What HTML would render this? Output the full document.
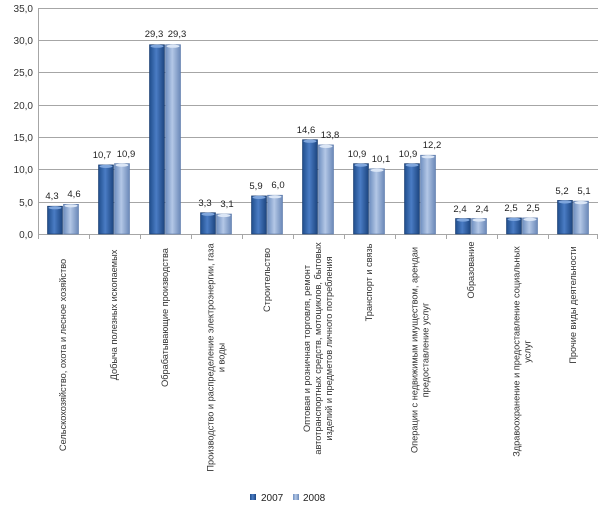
<!DOCTYPE html>
<html><head><meta charset="utf-8"><style>
html,body{margin:0;padding:0;background:#fff}
svg{display:block;font-family:"Liberation Sans",sans-serif}
</style></head><body>
<svg width="608" height="518" viewBox="0 0 608 518" xmlns="http://www.w3.org/2000/svg">
<defs>
<linearGradient id="g1" x1="0" x2="1" y1="0" y2="0">
<stop offset="0" stop-color="#1f4d8c"/><stop offset="0.45" stop-color="#4a7cc4"/><stop offset="1" stop-color="#1c4580"/>
</linearGradient>
<linearGradient id="g2" x1="0" x2="1" y1="0" y2="0">
<stop offset="0" stop-color="#6f8fc0"/><stop offset="0.45" stop-color="#b3c7e6"/><stop offset="1" stop-color="#6a88b8"/>
</linearGradient>
</defs>
<g stroke="#a6a6a6" stroke-width="1">
<line x1="38" x2="598" y1="8.5" y2="8.5"/>
<line x1="38" x2="598" y1="40.5" y2="40.5"/>
<line x1="38" x2="598" y1="72.5" y2="72.5"/>
<line x1="38" x2="598" y1="105.5" y2="105.5"/>
<line x1="38" x2="598" y1="137.5" y2="137.5"/>
<line x1="38" x2="598" y1="169.5" y2="169.5"/>
<line x1="38" x2="598" y1="202.5" y2="202.5"/>
<line x1="38" x2="598" y1="234.5" y2="234.5"/>
<line x1="38.5" x2="38.5" y1="8" y2="239"/>
<line x1="89.5" x2="89.5" y1="234" y2="239"/>
<line x1="140.5" x2="140.5" y1="234" y2="239"/>
<line x1="191.5" x2="191.5" y1="234" y2="239"/>
<line x1="242.5" x2="242.5" y1="234" y2="239"/>
<line x1="293.5" x2="293.5" y1="234" y2="239"/>
<line x1="344.5" x2="344.5" y1="234" y2="239"/>
<line x1="395.5" x2="395.5" y1="234" y2="239"/>
<line x1="446.5" x2="446.5" y1="234" y2="239"/>
<line x1="497.5" x2="497.5" y1="234" y2="239"/>
<line x1="548.5" x2="548.5" y1="234" y2="239"/>
<line x1="597.5" x2="597.5" y1="234" y2="239"/>
</g>
<g font-size="10" fill="#333" text-anchor="end">
<text x="33" y="12">35,0</text><text x="33" y="44">30,0</text><text x="33" y="76">25,0</text>
<text x="33" y="109">20,0</text><text x="33" y="141">15,0</text><text x="33" y="173">10,0</text>
<text x="33" y="206">5,0</text><text x="33" y="238">0,0</text>
</g>
<g stroke-width="0.6">
<g fill="url(#g1)" stroke="#17396b">
<rect x="47.5" y="206.2" width="15" height="27.8"/>
<rect x="98.5" y="164.9" width="15" height="69.1"/>
<rect x="149.5" y="44.7" width="15" height="189.3"/>
<rect x="200.5" y="212.7" width="15" height="21.3"/>
<rect x="251.5" y="195.9" width="15" height="38.1"/>
<rect x="302.5" y="139.7" width="15" height="94.3"/>
<rect x="353.5" y="163.6" width="15" height="70.4"/>
<rect x="404.5" y="163.6" width="15" height="70.4"/>
<rect x="455.5" y="218.5" width="15" height="15.5"/>
<rect x="506.5" y="217.9" width="15" height="16.1"/>
<rect x="557.5" y="200.4" width="15" height="33.6"/>
</g>
<g fill="url(#g2)" stroke="#5a78a8">
<rect x="63.5" y="204.3" width="15" height="29.7"/>
<rect x="114.5" y="163.6" width="15" height="70.4"/>
<rect x="165.5" y="44.7" width="15" height="189.3"/>
<rect x="216.5" y="214.0" width="15" height="20.0"/>
<rect x="267.5" y="195.2" width="15" height="38.8"/>
<rect x="318.5" y="144.9" width="15" height="89.1"/>
<rect x="369.5" y="168.8" width="15" height="65.2"/>
<rect x="420.5" y="155.2" width="15" height="78.8"/>
<rect x="471.5" y="218.5" width="15" height="15.5"/>
<rect x="522.5" y="217.9" width="15" height="16.1"/>
<rect x="573.5" y="201.1" width="15" height="32.9"/>
</g>
</g>
<g fill="#7fa6dd">
<ellipse cx="55" cy="207.7" rx="6.5" ry="1.6"/><ellipse cx="106" cy="166.4" rx="6.5" ry="1.6"/>
<ellipse cx="157" cy="46.2" rx="6.5" ry="1.6"/><ellipse cx="208" cy="214.2" rx="6.5" ry="1.6"/>
<ellipse cx="259" cy="197.4" rx="6.5" ry="1.6"/><ellipse cx="310" cy="141.2" rx="6.5" ry="1.6"/>
<ellipse cx="361" cy="165.1" rx="6.5" ry="1.6"/><ellipse cx="412" cy="165.1" rx="6.5" ry="1.6"/>
<ellipse cx="463" cy="220" rx="6.5" ry="1.6"/><ellipse cx="514" cy="219.4" rx="6.5" ry="1.6"/>
<ellipse cx="565" cy="201.9" rx="6.5" ry="1.6"/>
</g>
<g fill="#dbe6f6">
<ellipse cx="71" cy="205.8" rx="6.5" ry="1.6"/><ellipse cx="122" cy="165.1" rx="6.5" ry="1.6"/>
<ellipse cx="173" cy="46.2" rx="6.5" ry="1.6"/><ellipse cx="224" cy="215.5" rx="6.5" ry="1.6"/>
<ellipse cx="275" cy="196.7" rx="6.5" ry="1.6"/><ellipse cx="326" cy="146.4" rx="6.5" ry="1.6"/>
<ellipse cx="377" cy="170.3" rx="6.5" ry="1.6"/><ellipse cx="428" cy="156.7" rx="6.5" ry="1.6"/>
<ellipse cx="479" cy="220" rx="6.5" ry="1.6"/><ellipse cx="530" cy="219.4" rx="6.5" ry="1.6"/>
<ellipse cx="581" cy="202.6" rx="6.5" ry="1.6"/>
</g>
<g font-size="9.5" fill="#222" text-anchor="middle">
<text x="52" y="199">4,3</text><text x="74" y="197">4,6</text>
<text x="102" y="158">10,7</text><text x="126" y="157">10,9</text>
<text x="154" y="37">29,3</text><text x="177" y="37">29,3</text>
<text x="205" y="206">3,3</text><text x="227" y="207">3,1</text>
<text x="256" y="189">5,9</text><text x="278" y="188">6,0</text>
<text x="306" y="133">14,6</text><text x="330" y="138">13,8</text>
<text x="357" y="157">10,9</text><text x="381" y="162">10,1</text>
<text x="408" y="157">10,9</text><text x="432" y="148">12,2</text>
<text x="460" y="212">2,4</text><text x="482" y="212">2,4</text>
<text x="511" y="211">2,5</text><text x="533" y="211">2,5</text>
<text x="562" y="194">5,2</text><text x="584" y="194">5,1</text>
</g>
<g font-size="9.2" fill="#333" text-anchor="middle">
<text transform="translate(66,355) rotate(-90)">Сельскохозяйство, охота и лесное хозяйство</text>
<text transform="translate(117,315) rotate(-90)">Добыча полезных ископаемых</text>
<text transform="translate(168,317.5) rotate(-90)">Обрабатывающие производства</text>
<text transform="translate(213.5,357.5) rotate(-90)">Производство и распределение электроэнергии, газа</text>
<text transform="translate(224.5,357.5) rotate(-90)">и воды</text>
<text transform="translate(270,280) rotate(-90)">Строительство</text>
<text transform="translate(310,348.5) rotate(-90)">Оптовая и розничная торговля, ремонт</text>
<text transform="translate(321,348.5) rotate(-90)">автотранспортных средств, мотоциклов, бытовых</text>
<text transform="translate(332,348.5) rotate(-90)">изделий и предметов личного потребления</text>
<text transform="translate(372,282.5) rotate(-90)">Транспорт и связь</text>
<text transform="translate(417.5,350) rotate(-90)">Операции с недвижимым имуществом, арендаи</text>
<text transform="translate(428.5,350) rotate(-90)">предоставление услуг</text>
<text transform="translate(474,270) rotate(-90)">Образование</text>
<text transform="translate(519.5,351.5) rotate(-90)">Здравоохранение и предоставление социальных</text>
<text transform="translate(530.5,351.5) rotate(-90)">услуг</text>
<text transform="translate(576,305) rotate(-90)">Прочие виды деятельности</text>
</g>
<rect x="250" y="494" width="6" height="6" fill="url(#g1)"/>
<text x="261" y="501" font-size="10" fill="#222">2007</text>
<rect x="293" y="494" width="6" height="6" fill="url(#g2)"/>
<text x="303" y="501" font-size="10" fill="#222">2008</text>
</svg>
</body></html>
